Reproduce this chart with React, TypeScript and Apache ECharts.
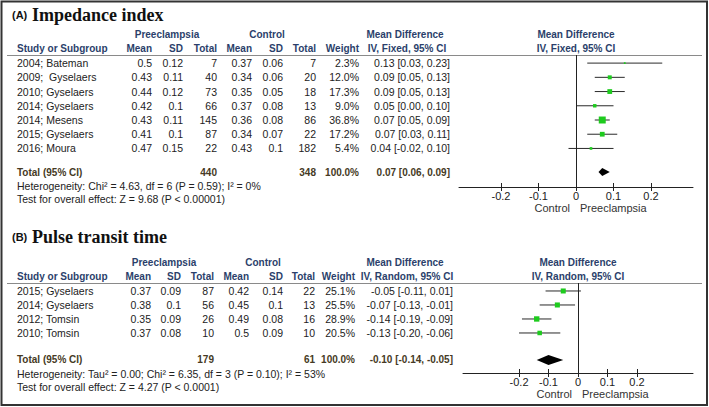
import React, { useEffect, useRef } from "react";
import * as echarts from "echarts";

// ---------- Data: panel A (Impedance index) ----------
const studiesA = ["2004; Bateman", "2009;\u00a0 Gyselaers", "2010; Gyselaers", "2014; Gyselaers", "2014; Mesens", "2015; Gyselaers", "2016; Moura"];
const preMeanA = [0.5, 0.43, 0.44, 0.42, 0.43, 0.41, 0.47];
const preSdA = [0.12, 0.11, 0.12, 0.1, 0.11, 0.1, 0.15];
const preNA = [7, 40, 73, 66, 145, 87, 22];
const ctlMeanA = [0.37, 0.34, 0.35, 0.37, 0.36, 0.34, 0.43];
const ctlSdA = [0.06, 0.06, 0.05, 0.08, 0.08, 0.07, 0.1];
const ctlNA = [7, 20, 18, 13, 86, 22, 182];
const weightA = [2.3, 12.0, 17.3, 9.0, 36.8, 17.2, 5.4];
const mdA = [0.13, 0.09, 0.09, 0.05, 0.07, 0.07, 0.04];
const loA = [0.03, 0.05, 0.05, 0.0, 0.05, 0.03, -0.02];
const hiA = [0.23, 0.13, 0.13, 0.1, 0.09, 0.11, 0.1];
const totalA = { preN: 440, ctlN: 348, weight: 100.0, md: 0.07, lo: 0.06, hi: 0.09 };
const hetA = "Heterogeneity: Chi\u00b2 = 4.63, df = 6 (P = 0.59); I\u00b2 = 0%";
const testA = "Test for overall effect: Z = 9.68 (P < 0.00001)";

// ---------- Data: panel B (Pulse transit time) ----------
const studiesB = ["2015; Gyselaers", "2014; Gyselaers", "2012; Tomsin", "2010; Tomsin"];
const preMeanB = [0.37, 0.38, 0.35, 0.37];
const preSdB = [0.09, 0.1, 0.09, 0.08];
const preNB = [87, 56, 26, 10];
const ctlMeanB = [0.42, 0.45, 0.49, 0.5];
const ctlSdB = [0.14, 0.1, 0.08, 0.09];
const ctlNB = [22, 13, 16, 10];
const weightB = [25.1, 25.5, 28.9, 20.5];
const mdB = [-0.05, -0.07, -0.14, -0.13];
const loB = [-0.11, -0.13, -0.19, -0.2];
const hiB = [0.01, -0.01, -0.09, -0.06];
const totalB = { preN: 179, ctlN: 61, weight: 100.0, md: -0.1, lo: -0.14, hi: -0.05 };
const hetB = "Heterogeneity: Tau\u00b2 = 0.00; Chi\u00b2 = 6.35, df = 3 (P = 0.10); I\u00b2 = 53%";
const testB = "Test for overall effect: Z = 4.27 (P < 0.0001)";

const tickValues = [-0.2, -0.1, 0, 0.1, 0.2];

// ---------- Styles / layout ----------
const SANS = "Liberation Sans, Arial, sans-serif";
const SERIF = "Liberation Serif, Times New Roman, serif";
const HEAD = "#2b3f6b";
const TOT = "#463a24";
const INK = "#222";
const GREEN = "#1ecb1e";
const FS = 10.5;
const FSB = 10;

const panels = [
  {
    title: "Impedance index", tag: "(A)", titleY: 15, method: "IV, Fixed, 95% CI",
    top: 55, bottom: 187, yMin: -0.57, yMax: 8.71, left: 459, right: 693, xMin: -0.312, xMax: 0.312,
    cols: [152, 183, 217, 252, 283, 316, 359], mdRight: 450, mdCenter: 405, plotCenter: 576,
    preCenter: 167, ctlCenter: 267, totalRow: 7.66, hetRow: 8.66, testRow: 9.58,
    sq: 1.15, diamondH: 8, labelY: 208,
    studies: studiesA, preMean: preMeanA, preSd: preSdA, preN: preNA, ctlMean: ctlMeanA, ctlSd: ctlSdA, ctlN: ctlNA,
    weight: weightA, md: mdA, lo: loA, hi: hiA, total: totalA, het: hetA, test: testA,
  },
  {
    title: "Pulse transit time", tag: "(B)", titleY: 237, method: "IV, Random, 95% CI",
    top: 283, bottom: 373, yMin: -0.57, yMax: 5.86, left: 463, right: 693, xMin: -0.39, xMax: 0.39,
    cols: [151, 181, 214, 249, 283, 315, 355], mdRight: 453, mdCenter: 405, plotCenter: 578,
    preCenter: 164, ctlCenter: 263, totalRow: 4.93, hetRow: 5.93, testRow: 6.86,
    sq: 1.0, diamondH: 10, labelY: 394,
    studies: studiesB, preMean: preMeanB, preSd: preSdB, preN: preNB, ctlMean: ctlMeanB, ctlSd: ctlSdB, ctlN: ctlNB,
    weight: weightB, md: mdB, lo: loB, hi: hiB, total: totalB, het: hetB, test: testB,
  },
];

const f2 = (v: number) => v.toFixed(2);
const ciText = (m: number, l: number, h: number) => `${f2(m)} [${f2(l)}, ${f2(h)}]`;

function txt(x: number, y: number, s: string, o: any = {}) {
  return {
    type: "text",
    x,
    y,
    silent: true,
    style: {
      text: s,
      fill: o.color || INK,
      fontSize: o.size || (o.bold ? FSB : FS),
      fontFamily: o.family || SANS,
      fontWeight: o.bold ? "bold" : "normal",
      align: o.align || "left",
      verticalAlign: "middle",
    },
  };
}

function buildGraphics() {
  const els: any[] = [];
  els.push({
    type: "rect",
    silent: true,
    shape: { x: 1.5, y: 1.5, width: 705.5, height: 403.5 },
    style: { fill: "none", stroke: "#333", lineWidth: 2 },
  });
  panels.forEach((p) => {
    const rowY = (r: number) => p.top + ((r - p.yMin) * (p.bottom - p.top)) / (p.yMax - p.yMin);
    els.push(txt(12, p.titleY, p.tag, { bold: true, size: 11, color: "#111" }));
    els.push(txt(32, p.titleY, p.title, { bold: true, size: 18, family: SERIF, color: "#111" }));
    const h1 = rowY(-2.03);
    const h2 = rowY(-1);
    const hb = { bold: true, color: HEAD };
    els.push(txt(p.preCenter, h1, "Preeclampsia", { ...hb, align: "center" }));
    els.push(txt(p.ctlCenter, h1, "Control", { ...hb, align: "center" }));
    els.push(txt(p.mdCenter, h1, "Mean Difference", { ...hb, align: "center" }));
    els.push(txt(p.plotCenter, h1, "Mean Difference", { ...hb, align: "center" }));
    els.push(txt(17, h2, "Study or Subgroup", hb));
    ["Mean", "SD", "Total", "Mean", "SD", "Total", "Weight"].forEach((h, i) =>
      els.push(txt(p.cols[i], h2, h, { ...hb, align: "right" }))
    );
    els.push(txt(p.mdCenter + 2, h2, p.method, { ...hb, align: "center" }));
    els.push(txt(p.plotCenter, h2, p.method, { ...hb, align: "center" }));
    els.push({
      type: "line",
      silent: true,
      shape: { x1: 7, y1: p.top + 0.5, x2: 702, y2: p.top + 0.5 },
      style: { stroke: "#8a8a8a", lineWidth: 1 },
    });
    p.studies.forEach((s, i) => {
      const y = rowY(i);
      els.push(txt(17, y, s));
      const vals = [
        String(p.preMean[i]), String(p.preSd[i]), String(p.preN[i]),
        String(p.ctlMean[i]), String(p.ctlSd[i]), String(p.ctlN[i]),
        p.weight[i].toFixed(1) + "%",
      ];
      vals.forEach((v, j) => els.push(txt(p.cols[j], y, v, { align: "right" })));
      els.push(txt(p.mdRight, y, ciText(p.md[i], p.lo[i], p.hi[i]), { align: "right" }));
    });
    const ty = rowY(p.totalRow);
    const tb = { bold: true, color: TOT };
    els.push(txt(17, ty, "Total (95% CI)", tb));
    els.push(txt(p.cols[2], ty, String(p.total.preN), { ...tb, align: "right" }));
    els.push(txt(p.cols[5], ty, String(p.total.ctlN), { ...tb, align: "right" }));
    els.push(txt(p.cols[6], ty, p.total.weight.toFixed(1) + "%", { ...tb, align: "right" }));
    els.push(txt(p.mdRight, ty, ciText(p.total.md, p.total.lo, p.total.hi), { ...tb, align: "right" }));
    els.push(txt(17, rowY(p.hetRow), p.het));
    els.push(txt(17, rowY(p.testRow), p.test));
    els.push(txt(p.plotCenter - 6, p.labelY, "Control", { size: 11, align: "right", color: "#333" }));
    els.push(txt(p.plotCenter + 4, p.labelY, "Preeclampsia", { size: 11, align: "left", color: "#333" }));
  });
  return els;
}

function buildOption() {
  const grids: any[] = [];
  const xAxes: any[] = [];
  const yAxes: any[] = [];
  const series: any[] = [];
  panels.forEach((p, k) => {
    grids.push({ left: p.left, top: p.top, width: p.right - p.left, height: p.bottom - p.top, outerBoundsMode: "none", containLabel: false });
    const base = { type: "value", gridIndex: k, min: p.xMin, max: p.xMax, position: "bottom", splitLine: { show: false } };
    xAxes.push({
      ...base,
      axisLine: { show: true, onZero: false, lineStyle: { color: INK, width: 1 } },
      axisTick: { show: true, length: 4, customValues: tickValues, lineStyle: { color: INK, width: 1 } },
      axisLabel: {
        show: true, customValues: tickValues, margin: 3, fontSize: 11, color: INK, fontFamily: SANS,
        formatter: (v: number) => String(Math.round(v * 10) / 10),
      },
    });
    xAxes.push({
      ...base,
      axisLine: { show: false, onZero: false },
      axisTick: { show: true, inside: true, length: 4, customValues: tickValues, lineStyle: { color: INK, width: 1 } },
      axisLabel: { show: false },
    });
    yAxes.push({ type: "value", gridIndex: k, min: p.yMin, max: p.yMax, inverse: true, show: false, splitLine: { show: false } });
    const sq = p.sq;
    series.push({
      type: "custom",
      xAxisIndex: 2 * k,
      yAxisIndex: k,
      encode: { x: [0, 1, 2], y: 3 },
      data: p.studies.map((_, i) => [p.md[i], p.lo[i], p.hi[i], i, p.weight[i]]),
      renderItem: (params: any, api: any) => {
        const r = api.value(3);
        const c = api.coord([api.value(0), r]);
        const l = api.coord([api.value(1), r]);
        const h = api.coord([api.value(2), r]);
        const s = sq * Math.sqrt(api.value(4));
        return {
          type: "group",
          children: [
            { type: "line", shape: { x1: l[0], y1: c[1], x2: h[0], y2: c[1] }, style: { stroke: "#2a2a2a", lineWidth: 1 } },
            { type: "rect", shape: { x: c[0] - s / 2, y: c[1] - s / 2, width: s, height: s }, style: { fill: GREEN } },
          ],
        };
      },
      markLine: {
        silent: true,
        symbol: ["none", "none"],
        label: { show: false },
        lineStyle: { color: INK, width: 1, type: "solid" },
        data: [{ xAxis: 0 }],
      },
      z: 3,
    });
    const dh = p.diamondH;
    series.push({
      type: "custom",
      xAxisIndex: 2 * k,
      yAxisIndex: k,
      encode: { x: [0, 1, 2], y: 3 },
      data: [[p.total.md, p.total.lo, p.total.hi, p.totalRow]],
      renderItem: (params: any, api: any) => {
        const r = api.value(3);
        const c = api.coord([api.value(0), r]);
        const l = api.coord([api.value(1), r]);
        const h = api.coord([api.value(2), r]);
        return {
          type: "polygon",
          shape: { points: [[l[0], c[1]], [c[0], c[1] - dh / 2], [h[0], c[1]], [c[0], c[1] + dh / 2]] },
          style: { fill: "#000" },
        };
      },
      z: 4,
    });
  });
  return {
    animation: false,
    backgroundColor: "#fff",
    grid: grids,
    xAxis: xAxes,
    yAxis: yAxes,
    series,
    graphic: { elements: buildGraphics() },
  };
}

export default function App() {
  const ref = useRef<HTMLDivElement>(null);
  useEffect(() => {
    document.body.style.margin = "0";
    const chart = echarts.init(ref.current as HTMLDivElement, null, { renderer: "svg", width: 709, height: 407 });
    chart.setOption(buildOption() as any);
    return () => chart.dispose();
  }, []);
  return <div ref={ref} style={{ width: 709, height: 407, background: "#fff" }} />;
}
